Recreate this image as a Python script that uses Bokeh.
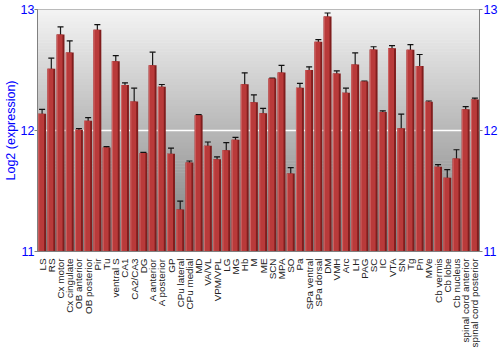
from bokeh.plotting import figure
from bokeh.models import ColumnDataSource, Whisker, TeeHead, LinearAxis, FixedTicker, BoxAnnotation, Span
from bokeh.transform import dodge
from bokeh.embed import file_html
from bokeh.resources import INLINE

regions = ["LS", "RS", "Cx motor", "Cx cingulate", "OB anterior", "OB posterior", "Pir", "Tu",
           "ventral S", "CA1", "CA2/CA3", "DG", "A anterior", "A posterior", "GP", "CPu lateral",
           "CPu medial", "MD", "VA/VL", "VPM/VPL", "LG", "MG", "Hb", "M", "ME", "SCN", "MPA", "SO",
           "Pa", "SPa ventral", "SPa dorsal", "DM", "VMH", "Arc", "LH", "PAG", "SC", "IC", "VTA",
           "SN", "Tg", "Pn", "MVe", "Cb vermis", "Cb lobe", "Cb nucleus", "spinal cord anterior",
           "spinal cord posterior"]
expression = [12.138, 12.51, 12.793, 12.645, 12.006, 12.08, 12.832, 11.86,
              12.573, 12.377, 12.24, 11.815, 12.54, 12.361, 11.807, 11.347,
              11.736, 12.127, 11.873, 11.763, 11.837, 11.923, 12.383, 12.234,
              12.143, 12.43, 12.479, 11.645, 12.353, 12.501, 12.733, 12.942,
              12.471, 12.311, 12.545, 12.405, 12.669, 12.152, 12.68, 12.019,
              12.667, 12.534, 12.237, 11.70, 11.609, 11.769, 12.176, 12.256]
error = [0.037, 0.088, 0.063, 0.095, 0.010, 0.027, 0.043, 0.006,
         0.045, 0.017, 0.110, 0.004, 0.107, 0.019, 0.048, 0.069,
         0.012, 0.005, 0.032, 0.019, 0.063, 0.021, 0.094, 0.060,
         0.040, 0.003, 0.060, 0.048, 0.037, 0.025, 0.018, 0.029,
         0.021, 0.039, 0.096, 0.004, 0.023, 0.011, 0.022, 0.117,
         0.043, 0.094, 0.007, 0.018, 0.067, 0.072, 0.022, 0.012]
y_ticks = [11, 12, 13]

src = ColumnDataSource(dict(
    region=regions, value=expression,
    upper=[v + e for v, e in zip(expression, error)],
    lower=[v - e for v, e in zip(expression, error)],
))

p = figure(width=500, height=350, x_range=regions, y_range=(11, 13),
           output_backend="svg", toolbar_location=None,
           min_border_left=30, min_border_right=20, min_border_top=9, min_border_bottom=90)
p.background_fill_color = "#ffffff"
p.border_fill_color = "#ffffff"
p.outline_line_color = "#808080"
p.grid.grid_line_color = None

# background vertical gradient (decorative)
n = 80
y0, y1 = 11.0, 13.0
for i in range(n):
    b = y0 + (y1 - y0) * i / n
    t = y0 + (y1 - y0) * (i + 1) / n + 0.005
    frac = (i + 0.5) / n
    g = int(round(122 + (244 - 122) * frac))
    p.add_layout(BoxAnnotation(bottom=b, top=t, fill_color=(g, g, g), fill_alpha=1.0,
                               line_alpha=0, level="underlay"))
p.add_layout(Span(location=12, dimension="width", line_color="white", line_width=1.5,
                  level="underlay"))

# shaded bars
p.vbar(x="region", top="value", bottom=11, width=0.86, source=src,
       fill_color="#801d1d", line_color=None)
p.vbar(x=dodge("region", -0.08, range=p.x_range), top="value", bottom=11, width=0.6,
       source=src, fill_color="#b93a3a", line_color=None)
p.vbar(x=dodge("region", -0.37, range=p.x_range), top="value", bottom=11, width=0.12,
       source=src, fill_color="#d06666", line_color=None)

w = Whisker(base="region", upper="upper", lower="lower", source=src,
            line_color="#1a1a1a", line_width=1.2,
            upper_head=TeeHead(size=6, line_color="#111111", line_width=1.2),
            lower_head=TeeHead(size=6, line_color="#111111", line_width=1.2))
p.add_layout(w)

blue = "#0000ff"
ax = p.yaxis[0]
ax.ticker = FixedTicker(ticks=y_ticks)
ax.axis_label = "Log2 (expression)"
ax.axis_label_text_color = blue
ax.axis_label_text_font = "Liberation Sans"
ax.axis_label_text_font_size = "12.5px"
ax.axis_label_text_font_style = "normal"
ax.axis_label_standoff = 0
ax.major_label_text_color = blue
ax.major_label_text_font = "Liberation Sans"
ax.major_label_text_font_size = "12.5px"
ax.major_label_standoff = 0
ax.major_tick_out = 3
ax.major_tick_in = 0
ax.minor_tick_line_color = None
ax.axis_line_color = "#808080"
ax.major_tick_line_color = "#808080"

rax = LinearAxis(ticker=FixedTicker(ticks=y_ticks))
rax.major_label_text_color = blue
rax.major_label_text_font = "Liberation Sans"
rax.major_label_text_font_size = "12.5px"
rax.major_label_standoff = 1
rax.major_tick_out = 3
rax.major_tick_in = 0
rax.minor_tick_line_color = None
rax.axis_line_color = "#808080"
rax.major_tick_line_color = "#808080"
p.add_layout(rax, "right")

xa = p.xaxis[0]
xa.major_label_orientation = 3.14159265 / 2
xa.major_label_text_font = "Liberation Sans"
xa.major_label_text_font_size = "9.9px"
xa.major_label_text_color = "#222222"
xa.major_label_standoff = 1
xa.major_tick_line_color = None
xa.axis_line_color = "#808080"

open("out.html", "w").write(file_html(p, INLINE))
